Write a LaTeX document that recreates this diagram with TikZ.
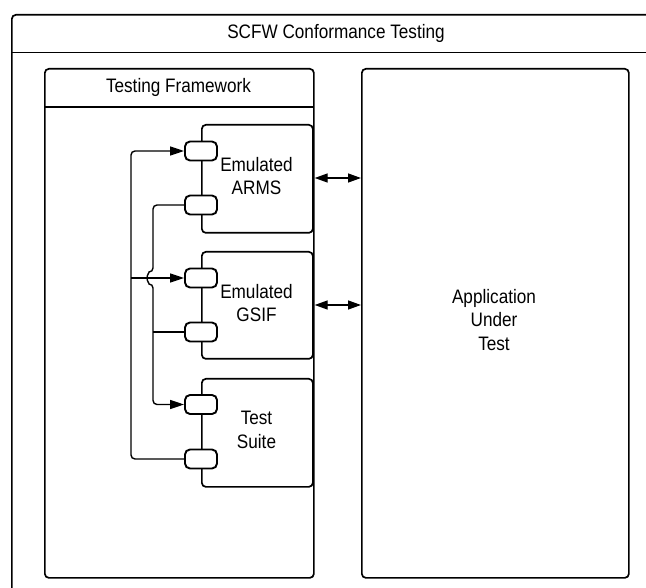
\documentclass[tikz,border=0pt]{standalone}
\usepackage{fontspec}
\setmainfont{Liberation Sans}[FakeStretch=0.88]
\usetikzlibrary{arrows.meta}
\begin{document}
\begin{tikzpicture}[x=1pt,y=-1pt,
  box/.style={draw,line width=1.7pt,rounded corners=4pt,inner sep=0pt,anchor=north west},
  port/.style={draw,line width=1.9pt,rounded corners=5pt,fill=white,minimum width=32pt,minimum height=19pt,inner sep=0pt},
  lbl/.style={font=\fontsize{19.5}{23.5}\selectfont,align=center,inner sep=0pt},
  conn/.style={line width=1.4pt,rounded corners=4pt},
  tip/.style={-{Triangle[length=14pt,width=9pt]}},
  tips/.style={{Triangle[length=13pt,width=9pt]}-{Triangle[length=13pt,width=9pt]}}]
\useasboundingbox (0,0) rectangle (646,588);
\clip (0,0) rectangle (646,588);
\fill[white] (0,0) rectangle (646,588);
% outer container
\node[box,minimum width=700pt,minimum height=650pt] (outer) at (11,14) {};
\coordinate (otl) at (11,52.5);
\coordinate (otr) at (720,52.5);
\draw[line width=1.7pt] (otl) -- (otr);
\node[lbl] (otitle) at (336,33) {SCFW Conformance Testing};
% testing framework
\node[box,minimum width=269pt,minimum height=509pt] (fw) at (44,68) {};
\coordinate (fwl) at (44,107);
\coordinate (fwr) at (313,107);
\draw[line width=1.7pt] (fwl) -- (fwr);
\node[lbl] (fwtitle) at (178.5,87.5) {Testing Framework};
% application under test
\node[box,minimum width=267pt,minimum height=509pt] (app) at (361,68) {};
\node[lbl] (apptext) at (494,320) {Application\\Under\\Test};
% components
\node[box,minimum width=111pt,minimum height=108pt] (arms) at (201,124) {};
\node[lbl] at (256.5,176) {Emulated\\ARMS};
\node[box,minimum width=111pt,minimum height=107pt] (gsif) at (201,251) {};
\node[lbl] at (256.5,303) {Emulated\\GSIF};
\node[box,minimum width=111pt,minimum height=108pt] (suite) at (201,378) {};
\node[lbl] at (256.5,430) {Test\\Suite};
% ports
\node[port] (a1) at (201,151) {};
\node[port] (a2) at (201,205) {};
\node[port] (g1) at (201,278) {};
\node[port] (g2) at (201,332) {};
\node[port] (s1) at (201,404.5) {};
\node[port] (s2) at (201,459) {};
% bus coordinates
\coordinate (v1) at (153,0);
\coordinate (v2) at (131,0);
% connectors
\draw[conn,tip] (a2.west) -- (a2.west -| v1) -- ([yshift=6pt]g1.west -| v1)
  arc[start angle=90,end angle=270,radius=6pt] -- (s1.west -| v1) -- (s1.west);
\draw[conn] (g2.west) -- (g2.west -| v1);
\draw[conn,tip] (s2.west) -- (s2.west -| v2) -- (a1.west -| v2) -- (a1.west);
\draw[conn,tip] (g1.west -| v2) -- (g1.west);
% links to application
\coordinate (l1) at (0,178);
\coordinate (l2) at (0,305);
\draw[line width=1.4pt,tips] (fw.east |- l1) -- (app.west |- l1);
\draw[line width=1.4pt,tips] (fw.east |- l2) -- (app.west |- l2);
\end{tikzpicture}
\end{document}
